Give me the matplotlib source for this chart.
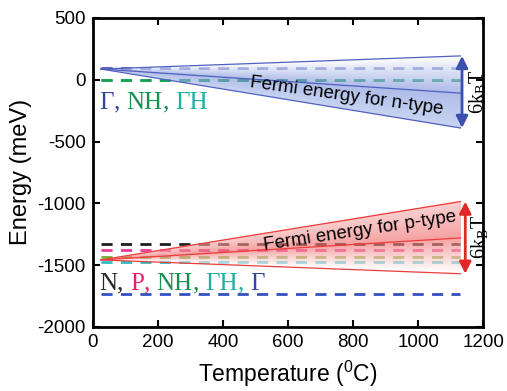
import numpy as np
import matplotlib
matplotlib.use("Agg")
import matplotlib.pyplot as plt
from matplotlib.offsetbox import TextArea, HPacker, AnnotationBbox
from matplotlib.colors import to_rgb

plt.rcParams['font.family'] = 'Liberation Sans'
plt.rcParams['axes.unicode_minus'] = False

# ---- data ----
T_ends = [25, 1130]                 # temperature (C) at start / end of fans

n_center = [87, -108]
n_upper = [87, 193]
n_lower = [87, -390]
p_center = [-1458, -1280]
p_upper = [-1458, -986]
p_lower = [-1458, -1570]

# dashed defect levels (meV)
n_levels = {'Γ': 95, 'ΓH': -3, 'NH': 0}
p_levels = {'N': -1331, 'P': -1377, 'NH': -1431, 'ΓH': -1477, 'Γ': -1736}

cols = {'N': '#282828', 'P': '#e6206a', 'NH': '#14904c', 'ΓH': '#20b0a0', 'Γ': '#3444a4'}
p_line_cols = {'N': '#202020', 'P': '#ee3a9a', 'NH': '#78aa28', 'ΓH': '#30bcc4', 'Γ': '#3450c0'}
n_line_cols = {'Γ': '#4a58b8', 'NH': '#1aa050', 'ΓH': '#30c0b0'}

fig = plt.figure(figsize=(5.07, 3.91), dpi=100)
ax = fig.add_axes([0.183, 0.164, 0.770, 0.790])

dash = (0, (4, 3))
for k, v in n_levels.items():
    ax.plot(T_ends, [v, v], ls=dash, lw=2, color=n_line_cols[k], zorder=2)
for k, v in p_levels.items():
    ax.plot(T_ends, [v, v], ls=dash, lw=2, color=p_line_cols[k], zorder=2)


def fan(center, upper, lower, c_col, e_col_up, e_col_lo, a_c, a_up, a_lo, line_col):
    T = np.linspace(T_ends[0], T_ends[1], 400)
    lo_E = min(lower) - 5
    hi_E = max(upper) + 5
    E = np.linspace(lo_E, hi_E, 400)
    TT, EE = np.meshgrid(T, E)
    c = np.interp(TT, T_ends, center)
    u = np.interp(TT, T_ends, upper)
    l = np.interp(TT, T_ends, lower)
    above = EE >= c
    f = np.where(above, (EE - c) / np.maximum(u - c, 1e-6),
                 (c - EE) / np.maximum(c - l, 1e-6))
    inside = f <= 1
    f = np.clip(f, 0, 1)
    cc = np.array(to_rgb(c_col))
    eu = np.array(to_rgb(e_col_up))
    el = np.array(to_rgb(e_col_lo))
    edge = np.where(above[..., None], eu, el)
    rgb = cc * (1 - f[..., None]) + edge * f[..., None]
    a_e = np.where(above, a_up, a_lo)
    alpha = (a_c * (1 - f) + a_e * f) * inside
    img = np.dstack([rgb, alpha])
    ax.imshow(img, extent=[T[0], T[-1], lo_E, hi_E], origin='lower',
              aspect='auto', zorder=3, interpolation='bilinear')
    for y in (center, upper, lower):
        ax.plot(T_ends, y, color=line_col, lw=0.9, zorder=4)


fan(n_center, n_upper, n_lower, '#7a90da', '#ffffff', '#a4b8e8', 0.6, 0.7, 0.6, '#5060c0')
fan(p_center, p_upper, p_lower, '#f07070', '#f8b0b0', '#ffffff', 0.65, 0.6, 0.6, '#ee3c3c')

# 6kBT arrows
ax.annotate('', xy=(1135, n_lower[1]), xytext=(1135, n_upper[1]),
            arrowprops=dict(arrowstyle='<|-|>,head_length=0.7,head_width=0.35',
                            color='#3a50b0', lw=2, shrinkA=0, shrinkB=0), zorder=5)
ax.annotate('', xy=(1145, p_lower[1]), xytext=(1145, p_upper[1]),
            arrowprops=dict(arrowstyle='<|-|>,head_length=0.7,head_width=0.35',
                            color='#e02828', lw=2, shrinkA=0, shrinkB=0), zorder=5)
ax.text(1182, -100, r'$\mathdefault{6k_{B}T}$', rotation=90, ha='center', va='center',
        fontsize=14.5, family='Liberation Serif', zorder=6)
ax.text(1188, -1275, r'$\mathdefault{6k_{B}T}$', rotation=90, ha='center', va='center',
        fontsize=14.5, family='Liberation Serif', zorder=6)

ax.text(780, -135, 'Fermi energy for n-type', rotation=-8, ha='center', va='center',
        fontsize=13.5, rotation_mode='anchor', zorder=6)
ax.text(822, -1228, 'Fermi energy for p-type', rotation=8.5, ha='center', va='center',
        fontsize=13.5, rotation_mode='anchor', zorder=6)


def colored_label(x, y, parts):
    areas = [TextArea(s, textprops=dict(color=c, family='Liberation Serif', fontsize=18))
             for s, c in parts]
    box = HPacker(children=areas, align='baseline', pad=0, sep=0)
    ab = AnnotationBbox(box, (x, y), box_alignment=(0, 0.5), frameon=False,
                        pad=0, zorder=6)
    ax.add_artist(ab)


colored_label(20, -185, [('Γ', cols['Γ']), (', ', cols['Γ']), ('NH', cols['NH']),
                         (', ', cols['NH']), ('ΓH', cols['ΓH'])])
colored_label(20, -1650, [('N', cols['N']), (', ', cols['N']), ('P', cols['P']),
                          (', ', cols['P']), ('NH', cols['NH']), (', ', cols['NH']),
                          ('ΓH', cols['ΓH']), (', ', cols['ΓH']), ('Γ', cols['Γ'])])

ax.set_xlim(0, 1200)
ax.set_ylim(-2000, 500)
ax.set_xticks(np.arange(0, 1201, 200))
ax.set_yticks(np.arange(-2000, 501, 500))
ax.tick_params(direction='in', top=True, right=True, length=5, width=1.5,
               labelsize=13.5, pad=5)
for s in ax.spines.values():
    s.set_linewidth(2)
ax.set_xlabel(r'Temperature ($^{\mathdefault{0}}$C)', fontsize=16.5, labelpad=6)
ax.set_ylabel('Energy (meV)', fontsize=17, labelpad=4)

fig.savefig('out.png', dpi=100)
